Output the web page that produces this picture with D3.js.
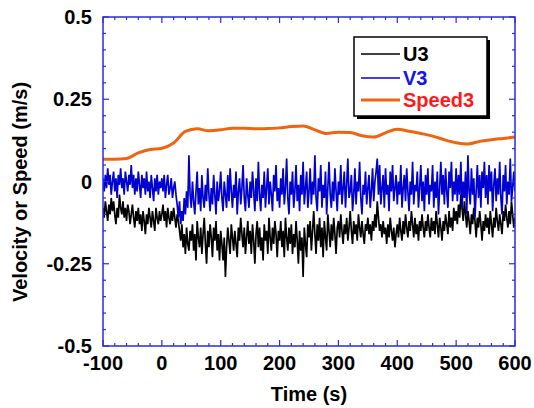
<!DOCTYPE html>
<html><head><meta charset="utf-8">
<script src="https://cdn.jsdelivr.net/npm/d3@7"></script>
<style>body{margin:0;background:#fff}svg{display:block}text{font-family:"Liberation Sans",Arial,sans-serif;font-weight:bold}</style>
</head><body><svg id="c" width="534" height="408"></svg>
<script>
// time grid for U3/V3: every 2 s from -100 to 600
const tStart = -100, tStep = 2;
const u3 = [
-0.08,-0.11,-0.06,-0.09,-0.12,-0.07,-0.10,-0.05,-0.09,-0.06,-0.10,-0.13,-0.08,-0.11,-0.04,-0.08,-0.10,-0.06,-0.11,-0.08,-0.12,-0.07,-0.09,-0.13,-0.10,
-0.07,-0.11,-0.14,-0.09,-0.12,-0.08,-0.13,-0.10,-0.15,-0.09,-0.12,-0.16,-0.10,-0.13,-0.08,-0.11,-0.14,-0.09,-0.12,-0.15,-0.08,-0.11,-0.13,-0.09,-0.12,
-0.10,-0.07,-0.12,-0.09,-0.14,-0.08,-0.11,-0.13,-0.09,-0.12,-0.08,-0.11,-0.14,-0.10,-0.12,-0.15,-0.18,-0.13,-0.20,-0.16,-0.22,-0.14,-0.19,-0.21,-0.15,
-0.18,-0.13,-0.21,-0.16,-0.24,-0.12,-0.17,-0.20,-0.14,-0.22,-0.16,-0.11,-0.19,-0.25,-0.15,-0.20,-0.13,-0.17,-0.23,-0.14,-0.18,-0.12,-0.21,-0.16,-0.24,
-0.15,-0.19,-0.24,-0.17,-0.29,-0.20,-0.14,-0.18,-0.22,-0.13,-0.17,-0.21,-0.15,-0.19,-0.23,-0.14,-0.18,-0.11,-0.16,-0.20,-0.14,-0.22,-0.17,-0.12,-0.19,
-0.15,-0.22,-0.13,-0.18,-0.25,-0.16,-0.12,-0.20,-0.14,-0.21,-0.17,-0.24,-0.13,-0.18,-0.15,-0.22,-0.11,-0.17,-0.21,-0.14,-0.19,-0.12,-0.16,-0.23,-0.15,
-0.18,-0.12,-0.20,-0.15,-0.23,-0.11,-0.17,-0.21,-0.14,-0.19,-0.13,-0.22,-0.16,-0.20,-0.12,-0.18,-0.25,-0.15,-0.21,-0.17,-0.29,-0.14,-0.19,-0.23,-0.13,
-0.17,-0.12,-0.21,-0.15,-0.09,-0.16,-0.22,-0.13,-0.18,-0.11,-0.20,-0.14,-0.23,-0.12,-0.17,-0.21,-0.10,-0.15,-0.20,-0.13,-0.18,-0.11,-0.16,-0.22,-0.14,
-0.12,-0.17,-0.10,-0.15,-0.19,-0.13,-0.16,-0.11,-0.18,-0.14,-0.09,-0.15,-0.19,-0.12,-0.16,-0.13,-0.18,-0.10,-0.14,-0.17,-0.12,-0.16,-0.19,-0.13,-0.15,
-0.11,-0.16,-0.13,-0.18,-0.12,-0.15,-0.10,-0.14,-0.06,-0.11,-0.15,-0.13,-0.17,-0.12,-0.16,-0.14,-0.19,-0.13,-0.17,-0.11,-0.15,-0.18,-0.14,-0.20,-0.16,
-0.13,-0.17,-0.11,-0.15,-0.18,-0.12,-0.16,-0.10,-0.14,-0.17,-0.12,-0.15,-0.09,-0.13,-0.17,-0.11,-0.16,-0.13,-0.18,-0.12,-0.15,-0.10,-0.14,-0.17,-0.12,
-0.15,-0.10,-0.14,-0.17,-0.11,-0.15,-0.12,-0.16,-0.09,-0.13,-0.17,-0.11,-0.14,-0.18,-0.12,-0.15,-0.10,-0.13,-0.16,-0.09,-0.14,-0.11,-0.15,-0.08,-0.12,
-0.09,-0.13,-0.07,-0.11,-0.04,-0.08,-0.12,-0.06,-0.10,-0.14,-0.09,-0.12,-0.16,-0.10,-0.13,-0.08,-0.12,-0.17,-0.11,-0.14,-0.09,-0.13,-0.18,-0.12,-0.15,
-0.10,-0.14,-0.11,-0.16,-0.09,-0.13,-0.17,-0.11,-0.14,-0.08,-0.12,-0.15,-0.10,-0.13,-0.16,-0.09,-0.12,-0.07,-0.11,-0.14,-0.09,-0.13,-0.06,-0.10,-0.14,
-0.11
];
const v3 = [
0.01,-0.03,0.02,-0.02,0.04,-0.01,0.02,-0.04,0.00,0.03,-0.03,0.01,-0.05,0.02,-0.01,0.04,-0.02,0.01,-0.04,0.03,0.00,-0.03,0.02,-0.01,0.05,
-0.02,0.02,-0.04,0.01,-0.03,0.03,-0.01,-0.05,0.02,-0.02,0.01,-0.04,0.03,-0.03,0.00,-0.05,0.02,-0.02,-0.06,0.01,-0.03,0.02,-0.04,0.00,-0.02,
0.01,-0.03,0.02,-0.05,-0.01,0.02,-0.04,-0.02,0.01,-0.05,-0.02,0.00,-0.04,-0.07,-0.11,-0.06,-0.13,-0.09,-0.12,-0.05,-0.10,-0.03,-0.08,0.08,-0.04,
-0.08,0.00,-0.06,-0.10,-0.03,0.03,-0.07,-0.02,-0.09,0.02,-0.05,-0.08,-0.01,-0.06,0.04,-0.04,-0.09,-0.02,-0.07,0.02,-0.04,-0.10,0.00,-0.06,-0.03,
0.03,-0.05,-0.09,0.00,-0.04,-0.08,0.02,-0.06,0.04,-0.03,-0.08,-0.01,-0.05,0.03,-0.10,-0.03,0.01,-0.07,-0.02,0.05,-0.05,-0.09,0.01,-0.04,-0.08,
0.00,-0.05,0.03,-0.03,-0.09,0.01,-0.06,0.06,-0.04,-0.09,-0.01,-0.05,0.03,-0.08,-0.02,0.04,-0.07,0.00,-0.04,-0.09,0.02,-0.03,0.05,-0.06,-0.02,
-0.08,0.01,-0.04,0.04,-0.07,-0.02,0.07,-0.05,-0.10,0.00,-0.04,0.03,-0.08,-0.03,0.05,-0.06,-0.01,-0.09,0.02,-0.04,0.06,-0.07,-0.02,0.03,-0.08,
-0.03,0.04,-0.07,0.00,-0.04,0.08,-0.05,-0.09,0.01,-0.03,0.05,-0.08,-0.01,-0.05,0.03,-0.10,-0.02,0.06,-0.04,-0.08,0.00,-0.06,0.04,-0.03,-0.09,
0.00,-0.04,0.05,-0.07,-0.02,0.03,-0.08,-0.01,0.07,-0.05,-0.03,0.02,-0.09,-0.04,0.04,-0.07,0.00,-0.03,0.06,-0.05,-0.10,-0.01,-0.04,0.03,-0.07,
-0.02,0.02,-0.08,-0.03,0.04,-0.06,0.00,0.03,0.07,-0.04,0.05,-0.07,-0.02,0.02,-0.08,0.04,-0.04,-0.01,-0.09,0.03,-0.03,0.05,-0.06,-0.02,0.02,
-0.07,0.00,-0.04,0.05,-0.08,-0.02,0.02,-0.06,0.04,-0.03,-0.09,0.00,-0.04,0.06,-0.07,-0.01,-0.03,0.03,-0.08,-0.02,0.05,-0.06,0.00,-0.09,0.02,
-0.04,0.04,-0.07,-0.01,-0.03,0.05,-0.08,0.00,-0.05,0.03,-0.10,-0.02,0.06,-0.04,0.02,-0.07,0.04,-0.03,-0.08,0.03,-0.02,0.06,-0.06,0.00,-0.04,
0.04,-0.06,0.02,-0.04,0.06,-0.08,0.00,-0.05,0.03,-0.10,0.08,-0.03,-0.07,0.04,-0.04,0.01,-0.11,-0.03,0.05,-0.05,0.02,-0.08,0.03,-0.02,0.06,
-0.05,0.02,-0.07,0.05,-0.03,0.03,-0.09,-0.01,0.04,-0.06,0.01,-0.04,0.06,-0.05,-0.10,0.02,-0.03,0.05,-0.07,0.00,-0.04,0.07,-0.06,-0.02,0.03,
-0.03
];
const speedT = [-100,-80,-60,-40,-20,0,20,40,60,80,100,120,140,160,180,200,220,240,260,280,300,320,340,360,380,400,420,440,460,480,500,520,540,560,580,600];
const speed3 = [0.068,0.068,0.070,0.087,0.097,0.101,0.117,0.152,0.160,0.154,0.157,0.162,0.162,0.160,0.161,0.163,0.167,0.169,0.157,0.146,0.150,0.149,0.139,0.135,0.148,0.159,0.153,0.146,0.138,0.127,0.118,0.114,0.122,0.127,0.131,0.135];
const xTicks = [-100,0,100,200,300,400,500,600];
const yTicks = [-0.5,-0.25,0,0.25,0.5];
const yTickLabels = ["-0.5","-0.25","0","0.25","0.5"];
const seriesNames = ["U3","V3","Speed3"];
const seriesColors = ["#000000","#0000d0","#f0640f"];
const labelColors = ["#000000","#1515e6","#ff1a1a"];

const svg = d3.select("#c");
const L=103,R=515,T=17,B=346;
const x = d3.scaleLinear().domain([-100,600]).range([L,R]);
const y = d3.scaleLinear().domain([-0.5,0.5]).range([B,T]);
const frame = "#2a2ae8";

svg.append("clipPath").attr("id","cp").append("rect").attr("x",L).attr("y",T).attr("width",R-L).attr("height",B-T);
const g = svg.append("g").attr("clip-path","url(#cp)");
const tOf = (i)=>tStart+i*tStep;
g.append("path").attr("d",d3.line().curve(d3.curveMonotoneX).x(d=>x(d[0])).y(d=>y(d[1]))(speedT.map((t,i)=>[t,speed3[i]])))
 .attr("fill","none").attr("stroke",seriesColors[2]).attr("stroke-width",3);
g.append("path").attr("d",d3.line().x(d=>x(d[0])).y(d=>y(d[1]))(u3.map((v,i)=>[tOf(i),v])))
 .attr("fill","none").attr("stroke",seriesColors[0]).attr("stroke-width",1.7).attr("stroke-linejoin","miter");
g.append("path").attr("d",d3.line().x(d=>x(d[0])).y(d=>y(d[1]))(v3.map((v,i)=>[tOf(i),v])))
 .attr("fill","none").attr("stroke",seriesColors[1]).attr("stroke-width",1.7).attr("stroke-linejoin","miter");

// ticks inward on all four sides
const major=6, minor=3;
const ag = svg.append("g");
d3.range(-100,601,20).forEach(t=>{
  const len = (t%100===0)?major:minor;
  ag.append("line").attr("x1",x(t)).attr("x2",x(t)).attr("y1",B).attr("y2",B-len);
  ag.append("line").attr("x1",x(t)).attr("x2",x(t)).attr("y1",T).attr("y2",T+len);
});
d3.range(-10,11,1).forEach(k=>{
  const v=k*0.05, len=(k%5===0)?major:minor;
  ag.append("line").attr("y1",y(v)).attr("y2",y(v)).attr("x1",L).attr("x2",L+len);
  ag.append("line").attr("y1",y(v)).attr("y2",y(v)).attr("x1",R).attr("x2",R-len);
});
ag.selectAll("line").attr("stroke",frame).attr("stroke-width",1.2);
svg.append("rect").attr("x",L).attr("y",T).attr("width",R-L).attr("height",B-T).attr("fill","none").attr("stroke",frame).attr("stroke-width",1.5);

// tick labels
svg.append("g").selectAll("text").data(xTicks).join("text")
 .attr("x",d=>x(d)).attr("y",370).attr("text-anchor","middle").attr("font-size",20).text(d=>d);
svg.append("g").selectAll("text").data(yTicks).join("text")
 .attr("x",92).attr("y",d=>y(d)+7).attr("text-anchor","end").attr("font-size",20).text((d,i)=>yTickLabels[i]);
svg.append("text").attr("x",309).attr("y",401).attr("text-anchor","middle").attr("font-size",20).text("Time (s)");
svg.append("text").attr("transform","translate(27,192) rotate(-90)").attr("text-anchor","middle").attr("font-size",20).text("Velocity or Speed (m/s)");

// legend
const lg = svg.append("g");
lg.append("rect").attr("x",357).attr("y",40).attr("width",133).attr("height",79).attr("fill","#000");
lg.append("rect").attr("x",354).attr("y",37).attr("width",133).attr("height",79).attr("fill","#fff").attr("stroke","#000").attr("stroke-width",1.5);
const rowsY=[54,78,100];
seriesNames.forEach((n,i)=>{
  lg.append("line").attr("x1",361).attr("x2",400).attr("y1",rowsY[i]).attr("y2",rowsY[i]).attr("stroke",seriesColors[i]).attr("stroke-width",i===2?3:1.6);
  lg.append("text").attr("x",403).attr("y",rowsY[i]+7).attr("font-size",20).attr("fill",labelColors[i]).text(n);
});
</script></body></html>
